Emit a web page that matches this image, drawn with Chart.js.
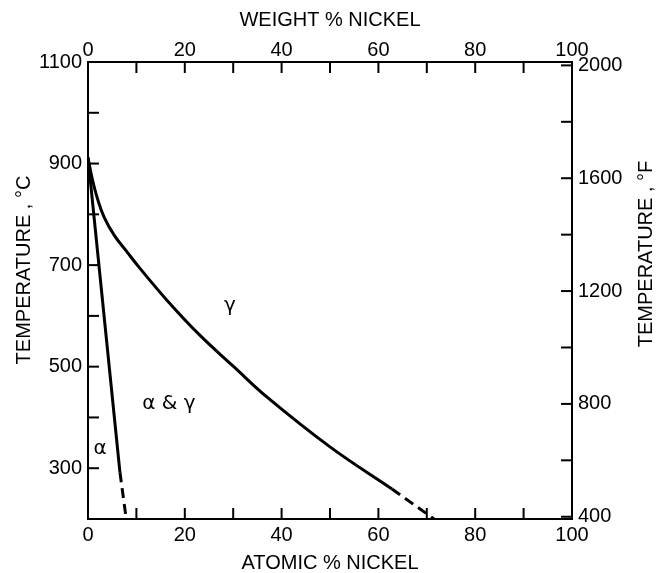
<!DOCTYPE html>
<html>
<head>
<meta charset="utf-8">
<script src="https://cdn.jsdelivr.net/npm/chart.js@4/dist/chart.umd.min.js"></script>
<style>
  html, body { margin: 0; padding: 0; background: #fff; }
</style>
</head>
<body>
<canvas id="chart" width="657" height="573"></canvas>
<script>
// Fe-Ni: phase boundaries, atomic % Ni vs temperature (deg C)
const gammaNi = [0, 0.83, 1.86, 3.3, 5.4, 7.9, 10.7, 16.3, 23.1, 30, 37, 50, 62.8];
const gammaTemp = [912, 872, 834, 795, 759, 728, 694, 631, 562, 501, 440, 342, 259];
const gammaDashNi = [62.8, 71.5];
const gammaDashTemp = [259, 200];

const alphaNi = [0, 6.6];
const alphaTemp = [912, 292];
const alphaDashNi = [6.6, 7.9];
const alphaDashTemp = [292, 200];

// axis ticks and the ones that carry a label
const nickelTicks = [0, 10, 20, 30, 40, 50, 60, 70, 80, 90, 100];
const nickelLabels = [0, 20, 40, 60, 80, 100];
const celsiusTicks = [200, 300, 400, 500, 600, 700, 800, 900, 1000, 1100];
const celsiusLabels = [300, 500, 700, 900, 1100];
const fahrenheitTicks = [400, 600, 800, 1000, 1200, 1400, 1600, 1800, 2000];
const fahrenheitLabels = [400, 800, 1200, 1600, 2000];

// phase field names
const regionNames = ['γ', 'α & γ', 'α'];
const regionNi = [29.3, 16.7, 2.5];
const regionTemp = [619, 427, 338];

const FONT = '"Liberation Sans", Arial, sans-serif';
const toF = c => c * 9 / 5 + 32;

function pts(xs, ys) {
    return xs.map((x, i) => ({ x: x, y: ys[i] }));
}

function setTicks(list) {
    return scale => { scale.ticks = list.map(v => ({ value: v })); };
}

function onlyLabels(list) {
    return v => list.includes(v) ? String(v) : '';
}

const lineStyle = {
    showLine: true,
    borderColor: '#000',
    borderWidth: 3,
    pointRadius: 0,
    fill: false
};

// inward tick marks, region names, rotated side titles
const extras = {
    id: 'extras',
    afterDraw(chart) {
        const ctx = chart.ctx;
        const a = chart.chartArea;
        const len = 11;
        ctx.save();
        ctx.strokeStyle = '#000';
        ctx.lineWidth = 2;
        Object.values(chart.scales).forEach(s => {
            s.ticks.forEach(t => {
                const p = s.getPixelForValue(t.value);
                ctx.beginPath();
                if (s.position === 'bottom') { ctx.moveTo(p, a.bottom); ctx.lineTo(p, a.bottom - len); }
                if (s.position === 'top') { ctx.moveTo(p, a.top); ctx.lineTo(p, a.top + len); }
                if (s.position === 'left') { ctx.moveTo(a.left, p); ctx.lineTo(a.left + len, p); }
                if (s.position === 'right') { ctx.moveTo(a.right, p); ctx.lineTo(a.right - len, p); }
                ctx.stroke();
            });
        });

        const x = chart.scales.x;
        const y = chart.scales.y;
        ctx.fillStyle = '#000';
        ctx.textAlign = 'center';
        ctx.textBaseline = 'middle';
        ctx.font = '20px "DejaVu Sans", sans-serif';
        regionNames.forEach((name, i) => {
            ctx.fillText(name, x.getPixelForValue(regionNi[i]), y.getPixelForValue(regionTemp[i]));
        });

        ctx.font = '20px ' + FONT;
        ctx.save();
        ctx.translate(24, 270);
        ctx.rotate(-Math.PI / 2);
        ctx.fillText('TEMPERATURE , °C', 0, 0);
        ctx.restore();

        ctx.save();
        ctx.translate(646, 254);
        ctx.rotate(-Math.PI / 2);
        ctx.fillText('TEMPERATURE , °F', 0, 0);
        ctx.restore();
        ctx.restore();
    }
};

const tickFont = { family: FONT, size: 20 };
const titleFont = { family: FONT, size: 20, lineHeight: 1 };
const border = { display: true, color: '#000', width: 2 };
const noGrid = { display: false, drawTicks: false };

new Chart(document.getElementById('chart'), {
    type: 'scatter',
    data: {
        datasets: [
            Object.assign({ label: 'gamma', data: pts(gammaNi, gammaTemp), tension: 0.4 }, lineStyle),
            Object.assign({ label: 'gamma dashed', data: pts(gammaDashNi, gammaDashTemp), borderDash: [10, 6] }, lineStyle),
            Object.assign({ label: 'alpha', data: pts(alphaNi, alphaTemp) }, lineStyle),
            Object.assign({ label: 'alpha dashed', data: pts(alphaDashNi, alphaDashTemp), borderDash: [10, 6] }, lineStyle)
        ]
    },
    options: {
        responsive: false,
        animation: false,
        layout: { padding: 0 },
        plugins: {
            legend: { display: false },
            tooltip: { enabled: false }
        },
        scales: {
            x: {
                type: 'linear', position: 'bottom', min: 0, max: 100,
                afterBuildTicks: setTicks(nickelTicks),
                afterFit: s => { s.height = 54; },
                ticks: { callback: onlyLabels(nickelLabels), font: tickFont, color: '#000', padding: 4, maxRotation: 0, autoSkip: false },
                grid: noGrid, border: border,
                title: { display: true, text: 'ATOMIC % NICKEL', font: titleFont, color: '#000', padding: { top: 2, bottom: 0 } }
            },
            x2: {
                type: 'linear', position: 'top', min: 0, max: 100,
                afterBuildTicks: setTicks(nickelTicks),
                afterFit: s => { s.height = 62; },
                ticks: { callback: onlyLabels(nickelLabels), font: tickFont, color: '#000', padding: 0, maxRotation: 0, autoSkip: false },
                grid: noGrid, border: border,
                title: { display: true, text: 'WEIGHT % NICKEL', font: titleFont, color: '#000', padding: { top: 10, bottom: 0 } }
            },
            y: {
                type: 'linear', position: 'left', min: 200, max: 1100,
                afterBuildTicks: setTicks(celsiusTicks),
                afterFit: s => { s.width = 88; },
                ticks: { callback: onlyLabels(celsiusLabels), font: tickFont, color: '#000', padding: 6, autoSkip: false },
                grid: noGrid, border: border
            },
            y2: {
                type: 'linear', position: 'right', min: toF(200), max: toF(1100),
                afterBuildTicks: setTicks(fahrenheitTicks),
                afterFit: s => { s.width = 85; },
                ticks: { callback: onlyLabels(fahrenheitLabels), font: tickFont, color: '#000', padding: 6, autoSkip: false },
                grid: noGrid, border: border
            }
        }
    },
    plugins: [extras]
});
</script>
</body>
</html>
